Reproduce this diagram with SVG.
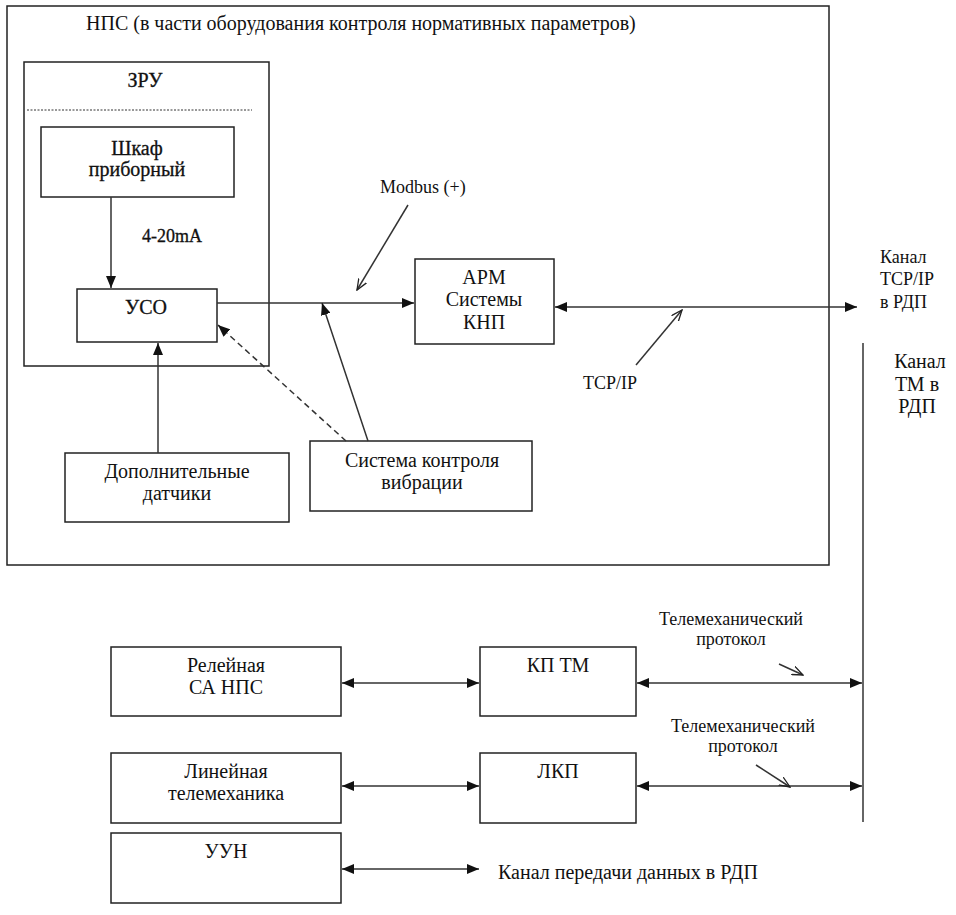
<svg xmlns="http://www.w3.org/2000/svg" width="956" height="915" viewBox="0 0 956 915">
<style>
text{font-family:'Liberation Serif','Times New Roman',serif;font-size:20px;fill:#111}
.c{text-anchor:middle}
.dk{stroke:#111;stroke-width:0.3}
.s18{font-size:18px}
.box{fill:none;stroke:#222;stroke-width:1.5}
.ln{fill:none;stroke:#333;stroke-width:1.5}
.dash{stroke-dasharray:6,4}
</style>
<defs>
<marker id="ah" viewBox="0 0 12 10" refX="12" refY="5" markerWidth="12" markerHeight="10" markerUnits="userSpaceOnUse" orient="auto-start-reverse">
<path d="M0,0 L12,5 L0,10 Z" fill="#111"/>
</marker>
<marker id="oh" viewBox="0 0 12 10" refX="11" refY="5" markerWidth="12" markerHeight="10" markerUnits="userSpaceOnUse" orient="auto">
<path d="M0,0.5 L11,5 L0,9.5" fill="none" stroke="#222" stroke-width="1.3"/>
</marker>
</defs>
<rect width="956" height="915" fill="#fff"/>

<g id="nps">
<rect class="box" x="7" y="6" width="822" height="559"/>
<text x="86" y="30">НПС (в части оборудования контроля нормативных параметров)</text>
</g>
<g id="zru">
<rect class="box" x="24" y="62" width="245" height="304"/>
<text class="c dk" x="145" y="87">ЗРУ</text>
<line x1="27" y1="110" x2="252" y2="110" stroke="#333" stroke-width="1" stroke-dasharray="2,1.5"/>
</g>
<g id="shkaf">
<rect class="box" x="41" y="127" width="193" height="70"/>
<text class="c dk" x="137" y="155">Шкаф</text>
<text class="c dk" x="137" y="176">приборный</text>
</g>
<g id="uso">
<rect class="box" x="77" y="289" width="140" height="53"/>
<text class="c dk" x="146" y="314">УСО</text>
</g>
<g id="arm">
<rect class="box" x="415" y="259" width="139" height="85"/>
<text class="c" x="484" y="284">АРМ</text>
<text class="c" x="484" y="306">Системы</text>
<text class="c" x="484" y="329">КНП</text>
</g>
<g id="dop">
<rect class="box" x="65" y="453" width="224" height="69"/>
<text class="c" x="177" y="478">Дополнительные</text>
<text class="c" x="177" y="500">датчики</text>
</g>
<g id="vib">
<rect class="box" x="310" y="441" width="222" height="70"/>
<text class="c" x="422" y="467">Система контроля</text>
<text class="c" x="422" y="489">вибрации</text>
</g>
<g id="rel">
<rect class="box" x="111" y="647" width="230" height="69"/>
<text class="c" x="226" y="672">Релейная</text>
<text class="c" x="226" y="694">СА НПС</text>
</g>
<g id="kptm">
<rect class="box" x="480" y="647" width="156" height="69"/>
<text class="c" x="558" y="672">КП ТМ</text>
</g>
<g id="lin">
<rect class="box" x="111" y="753" width="230" height="70"/>
<text class="c" x="226" y="778">Линейная</text>
<text class="c" x="226" y="800">телемеханика</text>
</g>
<g id="lkp">
<rect class="box" x="480" y="753" width="156" height="70"/>
<text class="c" x="558" y="778">ЛКП</text>
</g>
<g id="uun">
<rect class="box" x="111" y="833" width="230" height="70"/>
<text class="c" x="226" y="858">УУН</text>
</g>

<g id="labels">
<text class="dk s18" x="142" y="242">4-20mA</text>
<text class="s18" x="380" y="193">Modbus (+)</text>
<text class="s18" x="583" y="389">TCP/IP</text>
<text class="s18" x="880" y="263">Канал</text>
<text class="s18" x="880" y="285">TCP/IP</text>
<text class="s18" x="880" y="308">в РДП</text>
<text class="c" x="920" y="368">Канал</text>
<text class="c" x="917" y="391">ТМ в</text>
<text class="c" x="917" y="413">РДП</text>
<text class="c s18" x="731" y="625">Телемеханический</text>
<text class="c s18" x="731" y="645">протокол</text>
<text class="c s18" x="743" y="732">Телемеханический</text>
<text class="c s18" x="743" y="752">протокол</text>
<text x="498" y="879">Канал передачи данных в РДП</text>
</g>

<g id="connectors">
<line class="ln" x1="111" y1="197" x2="111" y2="288" marker-end="url(#ah)"/>
<line class="ln" x1="158" y1="453" x2="158" y2="343" marker-end="url(#ah)"/>
<line class="ln" x1="217" y1="303" x2="414" y2="303" marker-end="url(#ah)"/>
<line class="ln" x1="368" y1="441" x2="322" y2="303" marker-end="url(#ah)"/>
<line class="ln dash" x1="346" y1="441" x2="218" y2="325" marker-end="url(#ah)"/>
<line class="ln" x1="408" y1="205" x2="357" y2="290" marker-end="url(#oh)"/>
<line class="ln" x1="555" y1="307" x2="857" y2="307" marker-start="url(#ah)" marker-end="url(#ah)"/>
<line class="ln" x1="636" y1="365" x2="682" y2="310" marker-end="url(#oh)"/>
<line class="ln" x1="863" y1="343" x2="863" y2="822"/>
<line class="ln" x1="342" y1="683" x2="479" y2="683" marker-start="url(#ah)" marker-end="url(#ah)"/>
<line class="ln" x1="637" y1="683" x2="862" y2="683" marker-start="url(#ah)" marker-end="url(#ah)"/>
<line class="ln" x1="779" y1="664" x2="803" y2="675" marker-end="url(#oh)"/>
<line class="ln" x1="342" y1="786" x2="479" y2="786" marker-start="url(#ah)" marker-end="url(#ah)"/>
<line class="ln" x1="637" y1="786" x2="862" y2="786" marker-start="url(#ah)" marker-end="url(#ah)"/>
<line class="ln" x1="756" y1="765" x2="790" y2="787" marker-end="url(#oh)"/>
<line class="ln" x1="342" y1="869" x2="479" y2="869" marker-start="url(#ah)" marker-end="url(#ah)"/>
</g>
</svg>
